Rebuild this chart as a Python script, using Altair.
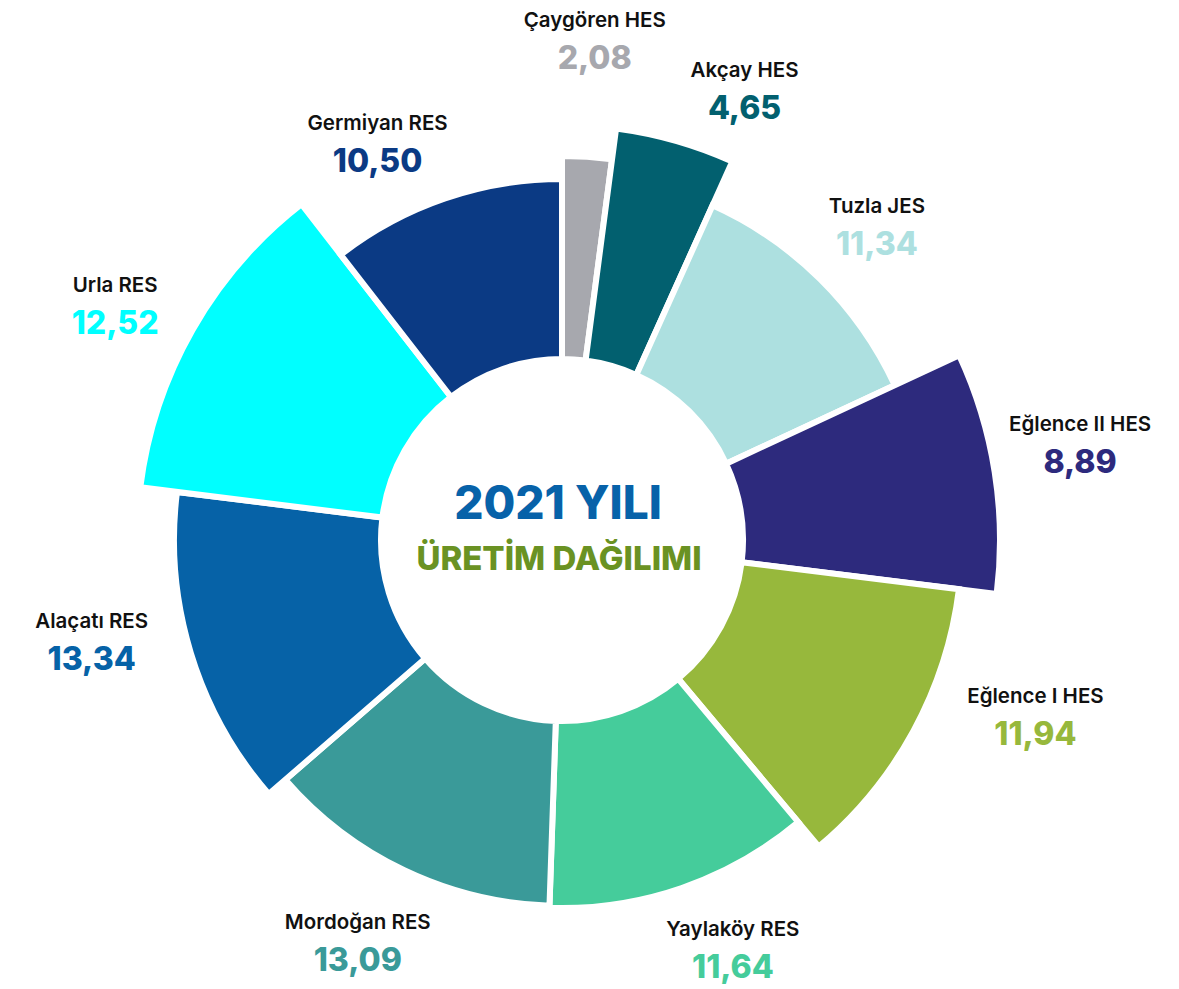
import altair as alt
import pandas as pd

# ---- data ----
names = ["Çaygören HES", "Akçay HES", "Tuzla JES", "Eğlence II HES", "Eğlence I HES",
         "Yaylaköy RES", "Mordoğan RES", "Alaçatı RES", "Urla RES", "Germiyan RES"]
values = [2.08, 4.65, 11.34, 8.89, 11.94, 11.64, 13.09, 13.34, 12.52, 10.50]
center_title = "2021 YILI"
center_subtitle = "ÜRETİM DAĞILIMI"

# ---- styles ----
colors = ["#a7a8ae", "#02606f", "#ade0e0", "#2d2a7d", "#97b83c",
          "#45cc9b", "#3a9a99", "#0662a7", "#00ffff", "#0b3a84"]
outer_radius = [384, 415, 367, 438, 400, 368, 366, 388, 425, 361]   # per-slice pop-out
label_radius = [501, 486, 445, 527, 505, 443, 451, 481, 505, 438]
label_nudge_deg = [0, 6.2, 0.4, -1.6, -8.2, -3.7, 1.4, 4.8, -1.9, -6.0]

FONT = "Inter"
CX, CY = 554, 532

df = pd.DataFrame({
    "name": names,
    "value": values,
    "idx": list(range(len(names))),
    "outer": outer_radius,
    "lr": label_radius,
    "nudge": label_nudge_deg,
})

color_scale = alt.Scale(domain=names, range=colors)

base = alt.Chart(df).transform_joinaggregate(
    total="sum(value)"
).transform_window(
    cum="sum(value)", sort=[alt.SortField("idx")], frame=[None, 0]
).transform_calculate(
    t0="(datum.cum - datum.value)/datum.total*2*PI",
    t1="datum.cum/datum.total*2*PI",
    mid="(datum.cum - datum.value/2)/datum.total*2*PI + datum.nudge*PI/180",
    vtxt="replace(format(datum.value, '.2f'), '.', ',')",
)

arcs = base.mark_arc(innerRadius=181, stroke="white", strokeWidth=6).encode(
    theta=alt.Theta("t0:Q", scale=None, stack=None),
    theta2=alt.Theta2("t1:Q"),
    radius=alt.Radius("outer:Q", scale=None, stack=None),
    color=alt.Color("name:N", scale=color_scale, legend=None),
    x=alt.value(CX),
    y=alt.value(CY),
)

name_text = base.mark_text(
    font=FONT, fontSize=20.5, fontWeight=600, color="#111111",
    align="center", baseline="middle", dy=-19,
).encode(
    theta=alt.Theta("mid:Q", scale=None, stack=None),
    radius=alt.Radius("lr:Q", scale=None, stack=None),
    text="name:N",
    x=alt.value(CX),
    y=alt.value(CY),
)

value_text = base.mark_text(
    font=FONT, fontSize=32, fontWeight=800,
    align="center", baseline="middle", dy=19,
).encode(
    theta=alt.Theta("mid:Q", scale=None, stack=None),
    radius=alt.Radius("lr:Q", scale=None, stack=None),
    text="vtxt:N",
    color=alt.Color("name:N", scale=color_scale, legend=None),
    x=alt.value(CX),
    y=alt.value(CY),
)

title_df = pd.DataFrame({"t": [center_title]})
sub_df = pd.DataFrame({"t": [center_subtitle]})

title_text = alt.Chart(title_df).mark_text(
    font=FONT, fontSize=46, fontWeight=800, color="#0762a9",
    align="center", baseline="alphabetic",
).encode(text="t:N", x=alt.value(550), y=alt.value(511))

sub_text = alt.Chart(sub_df).mark_text(
    font=FONT, fontSize=33, fontWeight=800, color="#6a9223",
    align="center", baseline="alphabetic",
).encode(text="t:N", x=alt.value(551), y=alt.value(562))

chart = alt.layer(arcs, name_text, value_text, title_text, sub_text).properties(
    width=1163, height=981, padding=0, autosize="none"
).configure_view(stroke=None)

chart.save("out.html", embed_options={"renderer": "svg", "actions": False})
